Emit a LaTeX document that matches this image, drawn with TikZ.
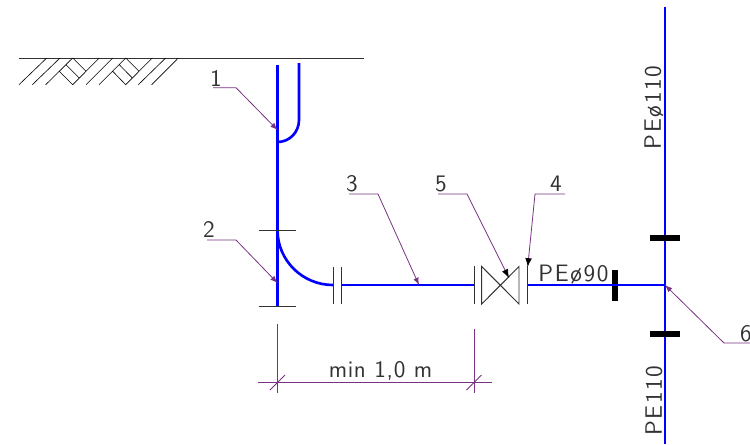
\documentclass[tikz,border=0pt]{standalone}
\usepackage{fontspec}
\usetikzlibrary{arrows.meta}
\newfontfamily\cadfont[LetterSpace=7]{Latin Modern Sans}
\newfontfamily\dimfont[LetterSpace=3]{Latin Modern Sans}
\definecolor{pipeblue}{RGB}{0,0,255}
\definecolor{leadcol}{RGB}{120,50,130}
\definecolor{cadgrey}{RGB}{50,50,50}
\tikzset{
  pipe/.style={draw=pipeblue,line width=1.5pt},
  cadline/.style={draw=cadgrey,line width=.55pt},
  hatch/.style={draw=black,line width=.35pt},
  leader/.style={draw=leadcol,line width=.45pt},
  saddle/.style={draw=black,line width=3.4pt},
  cadlabel/.style={text=cadgrey,font=\cadfont\fontsize{13.5}{14}\selectfont,inner sep=0pt}
}
\begin{document}
\begin{tikzpicture}[x=.02cm,y=-.02cm]
     \useasboundingbox (0,0) rectangle (750,444);
     % ground
     \draw[cadline] (19,58)--(364,58);
     \draw[hatch] (19,84.7)--(46.7,58) (32.3,84.7)--(60,58) (45.7,84.7)--(72.7,58) (72.7,58)--(86,71.3)--(72.7,84.7)--(59.3,71.3)
       (66,64.7)--(79.3,78) (86,71.3)--(99.3,58) (86,84.7)--(112.7,58) (99,84.7)--(125.7,58) (125.7,58)--(139,71.3)--(125.7,84.7)--(112.7,71.3)
       (119.3,64.7)--(132.3,78) (139,71.3)--(152.3,58) (138.3,84.7)--(165.7,58) (151.7,84.7)--(178.3,58);
     % points of the pipes
     \coordinate (risertop) at (277.5,65);
     \coordinate (riserend) at (277.5,306);
     \coordinate (bendstart) at (277.5,230);
     \coordinate (bendend) at (333,285);
     \coordinate (ventjoin) at (277.5,142);
     \coordinate (venttop) at (299,63);
     \coordinate (flangeout) at (341,285);
     \coordinate (valvein) at (474,285);
     \coordinate (valveout) at (527.7,285);
     \coordinate (tee) at (665,285);
     \coordinate (maintop) at (665,7);
     \coordinate (mainend) at (665,444);
     % pipes
     \draw[pipe] (risertop)--(riserend);
     \draw[pipe] (bendstart)..controls (277.5,260.4) and (302.4,285)..(bendend);
     \draw[pipe] (venttop)--(299,120)..controls (299,132.2) and (289.5,142)..(ventjoin);
     \draw[pipe] (flangeout)--(valvein);
     \draw[pipe] (valveout)--(tee);
     \draw[pipe] (maintop)--(mainend);
     % fittings
     \draw[cadline] (258.5,230)--(296,230) (258.5,306)--(296,306);
     \draw[cadline] (333,267)--(333,304) (341,267)--(341,304);
     \draw[cadline] (474,266)--(474,304) (527.7,266)--(527.7,304);
     \draw[cadline] (481.7,266.5)--(519,304)--(519,266.5)--(481.7,304)--cycle;
     \draw[saddle] (650,238)--(680,238) (650,334)--(680,334) (614.7,270)--(614.7,301);
     \draw[pipe,line width=.8pt] (611,285)--(618,285);
     % dimension
     \draw[leader] (277.5,324)--(277.5,393) (474,329)--(474,393);
     \draw[leader] (258,382)--(492,382);
     \draw[leader] (270,390)--(285,375) (466.5,390)--(481.5,375);
     \node[cadlabel,font=\dimfont\fontsize{13.5}{14}\selectfont] (dimtext) at (380.5,371) {min 1,0 m};
     % leaders
     \node[cadlabel] (num1) at (216,78) {1};
     \node[cadlabel] (num2) at (209,229) {2};
     \node[cadlabel] (num3) at (352,184) {3};
     \node[cadlabel] (num5) at (441,184) {5};
     \node[cadlabel] (num4) at (556,184) {4};
     \node[cadlabel] (num6) at (746,334) {6};
     \draw[leader,-latex] (213,87.7)--(236,87.7)--(277.5,130);
     \draw[leader,-latex] (207,240)--(236,240)--(277.5,283);
     \draw[leader,-latex] (349,194)--(378,194)--(419,285);
     \draw[leader,-{Latex[black]}] (438,194)--(467,194)--(509,278);
     \draw[leader,-{Latex[black]}] (565,194)--(535,194)--(527.7,267);
     \draw[leader,-latex] (750,343)--(724,343)--(tee);
     % pipe names
     \node[cadlabel] (pe90) at (573.5,275) {PEø90};
     \node[cadlabel,rotate=90] (pe110a) at (654,107.5) {PEø110};
     \node[cadlabel,rotate=90] (pe110b) at (654,400.5) {PE110};
\end{tikzpicture}
\end{document}
